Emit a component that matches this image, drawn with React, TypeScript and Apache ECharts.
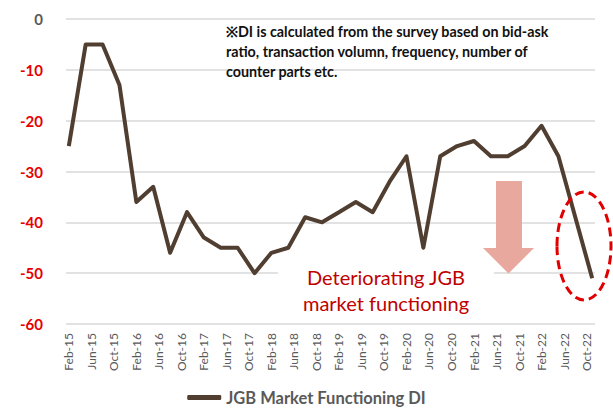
import React, { useEffect, useRef } from "react";
import * as echarts from "echarts";

const monthNames = ["Jan", "Feb", "Mar", "Apr", "May", "Jun", "Jul", "Aug", "Sep", "Oct", "Nov", "Dec"];
const axisYears = [2015, 2016, 2017, 2018, 2019, 2020, 2021, 2022];
const axisStart = "Feb-15";
const axisEnd = "Nov-22";

const surveyDates = [
  "Feb-15", "May-15", "Aug-15", "Nov-15",
  "Feb-16", "May-16", "Aug-16", "Nov-16",
  "Feb-17", "May-17", "Aug-17", "Nov-17",
  "Feb-18", "May-18", "Aug-18", "Nov-18",
  "Feb-19", "May-19", "Aug-19", "Nov-19",
  "Feb-20", "May-20", "Aug-20", "Nov-20",
  "Feb-21", "May-21", "Aug-21", "Nov-21",
  "Feb-22", "May-22", "Aug-22", "Nov-22",
];
const diValues = [
  -25, -5, -5, -13,
  -36, -33, -46, -38,
  -43, -45, -45, -50,
  -46, -45, -39, -40,
  -38, -36, -38, -32,
  -27, -45, -27, -25,
  -24, -27, -27, -25,
  -21, -27, -39, -51,
];

const seriesName = "JGB Market Functioning DI";
const noteLines = [
  "\u203BDI is calculated from the survey based on bid-ask",
  "ratio, transaction volumn, frequency, number of",
  "counter parts etc.",
];
const calloutLines = ["Deteriorating JGB", "market functioning"];

function buildMonths(): string[] {
  const out: string[] = [];
  let on = false;
  for (const y of axisYears) {
    for (const m of monthNames) {
      const lab = `${m}-${String(y).slice(2)}`;
      if (lab === axisStart) on = true;
      if (on) out.push(lab);
      if (lab === axisEnd) return out;
    }
  }
  return out;
}

const FONT = "Lato, 'Open Sans', sans-serif";

export default function App() {
  const ref = useRef<HTMLDivElement>(null);
  useEffect(() => {
    if (!ref.current) return;
    const chart = echarts.init(ref.current, undefined, { renderer: "svg" });
    const months = buildMonths();
    chart.setOption({
      animation: false,
      backgroundColor: "#ffffff",
      grid: { left: 66, right: 18, top: 19, bottom: 84, containLabel: false },
      legend: {
        data: [seriesName],
        left: "center",
        top: 389,
        padding: 0,
        icon: "roundRect",
        itemWidth: 34,
        itemHeight: 5,
        textStyle: { color: "#595959", fontSize: 16.5, fontWeight: "bold", fontFamily: FONT },
      },
      xAxis: {
        type: "category",
        data: months,
        boundaryGap: true,
        axisLine: { show: false },
        axisTick: { show: false },
        splitLine: { show: false },
        axisLabel: {
          interval: 3,
          rotate: 90,
          margin: 9,
          color: "#595959",
          fontSize: 12,
          fontFamily: FONT,
        },
      },
      yAxis: {
        type: "value",
        min: -60,
        max: 0,
        interval: 10,
        axisLine: { show: false },
        axisTick: { show: false },
        splitLine: { lineStyle: { color: "#d9d9d9", width: 1.5 } },
        axisLabel: {
          margin: 23,
          formatter: (v: number) => (v < 0 ? `{neg|${v}}` : `{zero|${v}}`),
          rich: {
            neg: { color: "#e60000", fontSize: 15, fontWeight: "bold", fontFamily: FONT },
            zero: { color: "#595959", fontSize: 15, fontWeight: "bold", fontFamily: FONT },
          },
        },
      },
      series: [
        {
          name: seriesName,
          type: "line",
          data: surveyDates.map((d, i) => [d, diValues[i]]),
          symbol: "none",
          lineStyle: { color: "#503e31", width: 4, join: "round" },
          itemStyle: { color: "#503e31" },
          z: 3,
        },
      ],
      graphic: [
        {
          type: "text",
          left: 226,
          top: 21,
          z: 5,
          style: {
            text: noteLines.join("\n"),
            font: `bold 14.3px ${FONT}`,
            fill: "#111111",
            lineHeight: 20,
          },
        },
        {
          type: "rect",
          shape: { x: 278, y: 264, width: 216, height: 56 },
          style: { fill: "#ffffff" },
          z: 1,
        },
        {
          type: "text",
          x: 386,
          y: 264,
          z: 5,
          style: {
            text: calloutLines.join("\n"),
            font: `20px ${FONT}`,
            fill: "#c00000",
            align: "center",
            lineHeight: 26,
          },
        },
        {
          type: "polygon",
          z: 5,
          shape: {
            points: [
              [496, 181], [522, 181], [522, 248], [534, 248],
              [508.5, 273.5], [483, 248], [496, 248],
            ],
          },
          style: { fill: "#e8a89d" },
        },
        {
          type: "ellipse",
          z: 6,
          shape: { cx: 584, cy: 246, rx: 27, ry: 54 },
          style: { fill: "none", stroke: "#e00000", lineWidth: 3, lineDash: [9, 5] },
        },
      ],
    });
    return () => chart.dispose();
  }, []);
  return (
    <div
      ref={ref}
      style={{ position: "absolute", left: 0, top: 0, width: 613, height: 408 }}
    />
  );
}
